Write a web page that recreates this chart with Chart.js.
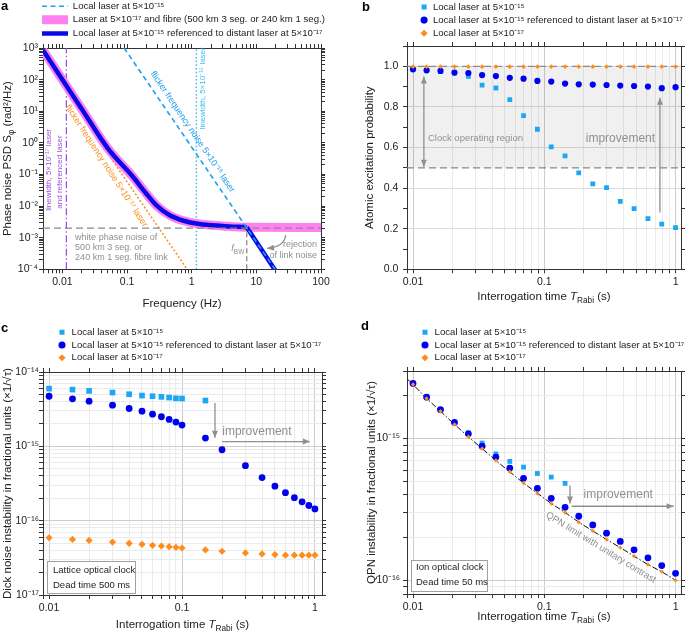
<!DOCTYPE html>
<html>
<head>
<meta charset="utf-8">
<script src="https://cdn.jsdelivr.net/npm/chart.js@4.4.1/dist/chart.umd.min.js"></script>
<style>
html, body { margin: 0; padding: 0; background: #fff; }
#wrap { position: relative; width: 685px; height: 633px; overflow: hidden; }
canvas { position: absolute; }
</style>
</head>
<body>
<div id="wrap">
  <canvas id="chartA" width="345" height="310" style="left:0;top:0"></canvas>
  <canvas id="chartB" width="340" height="310" style="left:345px;top:0"></canvas>
  <canvas id="chartC" width="345" height="323" style="left:0;top:310px"></canvas>
  <canvas id="chartD" width="340" height="323" style="left:345px;top:310px"></canvas>
</div>
<script>
// ---------- panel a : phase noise PSD (Hz, rad^2/Hz)
const freqKnee = [0.005, 0.01, 0.02, 0.05, 0.122, 0.196, 0.28, 0.45, 0.725, 1.32, 3.0, 7.1];
const psdKnee = [850, 99, 11.6, 0.68, 0.086, 0.0255, 0.0109, 0.0052, 0.0035, 0.0027, 0.00236, 0.00214];
const freqTail = [7.1, 20];          // referenced laser above the servo bandwidth
const psdTail = [0.00214, 0.000087];
const freqFibre = [...freqKnee, 100];
const psdFibre = [...psdKnee, 0.0021];
const freqLocal15 = [0.09, 20];      // flicker frequency noise, 5e-15 laser
const psdLocal15 = [1000, 0.000091];
const freqLocal17 = [0.055, 0.85];   // flicker frequency noise, 5e-17 laser
const psdLocal17 = [0.35, 0.0001];
const whiteLink = 0.002;
const freqSpan = [0.005, 100];
const psdSpan = [1e-4, 1e3];
const lw17 = 0.0115, lw15 = 1.18, fBW = 7.1;

// ---------- panel b : atomic excitation probability
const tRabi = [0.01, 0.0127, 0.0162, 0.0207, 0.0264, 0.0336, 0.0428, 0.0546, 0.0695, 0.0886,
               0.113, 0.144, 0.183, 0.234, 0.298, 0.379, 0.483, 0.616, 0.785, 1.0];
const excLocal = [0.984, 0.980, 0.975, 0.967, 0.951, 0.907, 0.893, 0.836, 0.757, 0.690,
                  0.603, 0.559, 0.475, 0.421, 0.402, 0.335, 0.299, 0.250, 0.223, 0.205];
const excRef = [0.985, 0.980, 0.977, 0.969, 0.967, 0.957, 0.952, 0.943, 0.939, 0.928,
                0.925, 0.915, 0.911, 0.910, 0.908, 0.905, 0.903, 0.900, 0.892, 0.897];
const excStable = [0.998, 0.998, 0.998, 0.998, 0.998, 0.998, 0.998, 0.998, 0.998, 0.998,
                   0.998, 0.998, 0.998, 0.998, 0.998, 0.998, 0.998, 0.998, 0.998, 0.998];
const tSpanB = [0.009, 1.1];

// ---------- panel c : Dick noise instability
const tDick = [0.01, 0.015, 0.02, 0.03, 0.04, 0.05, 0.06, 0.07, 0.08, 0.09, 0.1,
               0.15, 0.2, 0.3, 0.4, 0.5, 0.6, 0.7, 0.8, 0.9, 1.0];
const dickLocal = [5.98e-15, 5.8e-15, 5.57e-15, 5.29e-15, 5.02e-15, 4.82e-15, 4.72e-15, 4.63e-15, 4.53e-15, 4.43e-15, 4.4e-15,
                   4.13e-15, null, null, null, null, null, null, null, null, null];
const dickRef = [4.72e-15, 4.35e-15, 4.05e-15, 3.58e-15, 3.23e-15, 2.97e-15, 2.71e-15, 2.5e-15, 2.3e-15, 2.12e-15, 1.93e-15,
                 1.29e-15, 9.0e-16, 5.5e-16, 3.8e-16, 2.91e-16, 2.38e-16, 2.04e-16, 1.79e-16, 1.6e-16, 1.44e-16];
const dickStable = [5.89e-17, 5.6e-17, 5.43e-17, 5.15e-17, 4.95e-17, 4.8e-17, 4.66e-17, 4.56e-17, 4.47e-17, 4.38e-17, 4.29e-17,
                    4.04e-17, 3.88e-17, 3.68e-17, 3.57e-17, 3.5e-17, 3.43e-17, 3.43e-17, 3.43e-17, 3.43e-17, 3.43e-17];

// ---------- panel d : QPN instability
const qpnLocal = [2.45e-15, 1.96e-15, 1.6e-15, 1.3e-15, 1.1e-15, 9.3e-16, 7.8e-16, 6.9e-16, 6.29e-16, 5.67e-16,
                  5.35e-16, 4.83e-16, null, null, null, null, null, null, null, null];
const qpnRef = [2.45e-15, 1.96e-15, 1.6e-15, 1.3e-15, 1.08e-15, 8.83e-16, 7.4e-16, 6.19e-16, 5.24e-16, 4.46e-16,
                3.79e-16, 3.27e-16, 2.83e-16, 2.46e-16, 2.15e-16, 1.88e-16, 1.64e-16, 1.44e-16, 1.27e-16, 1.12e-16];
const qpnStable = [2.41e-15, 1.92e-15, 1.56e-15, 1.26e-15, 1.03e-15, 8.5e-16, 7.0e-16, 5.83e-16, 4.85e-16, 4.11e-16,
                   3.48e-16, 3.01e-16, 2.57e-16, 2.23e-16, 1.94e-16, 1.70e-16, 1.48e-16, 1.29e-16, 1.15e-16, 1.0e-16];
const qpnLineT = [0.009, ...tRabi];
const qpnLine = [2.65e-15, ...qpnStable];

// ---------- look
const FAMILY = "'Liberation Sans', Arial, Helvetica, sans-serif";
Chart.defaults.font.family = FAMILY;
Chart.defaults.color = '#222';
const COL = {
  sky: '#1aa7f5', blue: '#0000f0', orange: '#ff8c1a', pink: '#ff80f0', line: '#0a0ae6',
  dash: '#1e9fec', dotted: '#3bbcf7', purple: '#9b51e0', note: '#8f8f8f', ref: '#8a8a8a'
};
const LEGEND_SIZE = 9.6;

const toXY = (xs, ys) => xs.map((x, i) => ({ x, y: ys[i] })).filter(p => p.y != null);
const SUP = { '-': '⁻', '0': '⁰', '1': '¹', '2': '²', '3': '³', '4': '⁴', '5': '⁵', '6': '⁶', '7': '⁷', '8': '⁸', '9': '⁹' };
const isDecade = v => Math.abs(Math.log10(v) - Math.round(Math.log10(v))) < 1e-9;
const decadeLabel = v => isDecade(v) ? '10' + String(Math.round(Math.log10(v))).split('').map(c => SUP[c]).join('') : '';
const plainLabel = v => isDecade(v) ? String(v) : '';

function logTicks(lo, hi) {
  const out = [];
  for (let e = Math.floor(Math.log10(lo)); e <= Math.ceil(Math.log10(hi)); e++) {
    for (let m = 1; m <= 9; m++) {
      const v = Number((m * Math.pow(10, e)).toPrecision(6));
      if (v >= lo * 0.9999 && v <= hi * 1.0001) out.push(v);
    }
  }
  return out;
}

const majorMinor = c => isDecade(c.tick.value) ? '#cdcdcd' : '#ebebeb';

function axis(pos, o) {
  const horiz = pos === 'top' || pos === 'bottom';
  const main = pos === 'bottom' || pos === 'left';
  const cfg = {
    type: o.type, axis: horiz ? 'x' : 'y', position: pos, min: o.min, max: o.max,
    border: { display: true, color: '#333', width: 1 },
    grid: { drawOnChartArea: main && !!o.grid, color: o.grid || '#333', tickColor: '#333', tickLength: 4, lineWidth: 1 },
    ticks: { display: main, autoSkip: false, maxRotation: 0, minRotation: 0, padding: o.pad == null ? 3 : o.pad,
             font: { size: 10.5 }, color: '#222', callback: o.label || (() => ''), stepSize: o.step },
    afterFit: s => {
      if (pos === 'top') s.height = Math.max(0, o.top - s.chart.legend.height);
      else if (horiz) s.height = o.size;
      else s.width = o.size;
    }
  };
  if (o.ticks) cfg.afterBuildTicks = s => { s.ticks = o.ticks.map(v => ({ value: v })); };
  return cfg;
}

// ---------- drawing helpers for labels and arrows
function drawRich(ctx, parts, x, y, size, align, color, rot) {
  if (typeof parts === 'string') parts = [{ t: parts }];
  const fonts = parts.map(p => (p.it ? 'italic ' : '') + (p.sub ? size * 0.72 : size) + 'px ' + FAMILY);
  const widths = parts.map((p, i) => { ctx.font = fonts[i]; return ctx.measureText(p.t).width; });
  const total = widths.reduce((a, b) => a + b, 0);
  ctx.save();
  ctx.translate(x, y);
  ctx.rotate((rot || 0) * Math.PI / 180);
  ctx.fillStyle = color;
  ctx.textBaseline = 'middle';
  ctx.textAlign = 'left';
  let cx = align === 'center' ? -total / 2 : align === 'right' ? -total : 0;
  parts.forEach((p, i) => { ctx.font = fonts[i]; ctx.fillText(p.t, cx, p.sub ? size * 0.32 : 0); cx += widths[i]; });
  ctx.restore();
}

function head(ctx, fx, fy, tx, ty) {
  const a = Math.atan2(ty - fy, tx - fx), L = 7, W = 3;
  ctx.beginPath();
  ctx.moveTo(tx, ty);
  ctx.lineTo(tx - L * Math.cos(a) + W * Math.sin(a), ty - L * Math.sin(a) - W * Math.cos(a));
  ctx.lineTo(tx - L * Math.cos(a) - W * Math.sin(a), ty - L * Math.sin(a) + W * Math.cos(a));
  ctx.closePath();
  ctx.fill();
}

const notes = {
  id: 'notes',
  afterLayout(chart, args, o) {
    if (o.legendAt && chart.legend) {
      const lg = chart.legend;
      lg.left = o.legendAt[0];
      lg.top = o.legendAt[1];
      lg.bottom = lg.top + 60;
    }
  },
  afterDraw(chart, args, o) {
    const { ctx, chartArea: ca, scales } = chart;
    const px = p => [scales.x.getPixelForValue(p[0]), scales.y.getPixelForValue(p[1])];
    ctx.save();
    ctx.fillStyle = '#000';
    ctx.font = 'bold 13px ' + FAMILY;
    ctx.textBaseline = 'middle';
    ctx.textAlign = 'left';
    ctx.fillText(o.letter[0], o.letter[1], o.letter[2]);
    drawRich(ctx, o.xTitle, (ca.left + ca.right) / 2, o.xTitleY, 11.5, 'center', '#222', 0);
    drawRich(ctx, o.yTitle, o.yTitleX, (ca.top + ca.bottom) / 2, 11.5, 'center', '#222', -90);
    (o.items || []).forEach(it => {
      ctx.strokeStyle = COL.note;
      ctx.fillStyle = COL.note;
      ctx.lineWidth = 1.3;
      if (it.arrow) {
        const [x1, y1] = px(it.arrow[0]);
        const [x2, y2] = px(it.arrow[1]);
        ctx.beginPath(); ctx.moveTo(x1, y1); ctx.lineTo(x2, y2); ctx.stroke();
        head(ctx, x1, y1, x2, y2);
        if (it.both) head(ctx, x2, y2, x1, y1);
      } else if (it.curve) {
        const [x1, y1] = px(it.curve[0]);
        const [cx, cy] = px(it.curve[1]);
        const [x2, y2] = px(it.curve[2]);
        ctx.beginPath(); ctx.moveTo(x1, y1); ctx.quadraticCurveTo(cx, cy, x2, y2); ctx.stroke();
        head(ctx, cx, cy, x2, y2);
      } else if (it.box) {
        const b = it.box;
        const left = ca.left + b.dx, top = ca.bottom - b.dy - b.h;
        ctx.fillStyle = '#fff';
        ctx.fillRect(left, top, b.w, b.h);
        ctx.strokeStyle = '#a0a0a0';
        ctx.lineWidth = 1;
        ctx.strokeRect(Math.round(left) + 0.5, Math.round(top) + 0.5, b.w, b.h);
        it.lines.forEach((t, i) => drawRich(ctx, t, left + b.padX, top + b.firstY + i * b.gap, b.size, 'left', '#222', 0));
      } else {
        const [x, y] = px(it.at);
        drawRich(ctx, it.text, x, y, it.size, it.align || 'center', it.color, it.rot || 0);
      }
    });
    ctx.restore();
  }
};

const base = { responsive: false, animation: false, events: [], devicePixelRatio: 1, layout: { padding: 0 } };
const rabiTitle = [{ t: 'Interrogation time ' }, { t: 'T', it: true }, { t: 'Rabi', sub: true }, { t: ' (s)' }];
const pointLegend = (boxW, maxH, pad) => ({
  position: 'top', align: 'start', maxHeight: maxH,
  labels: {
    font: { size: LEGEND_SIZE }, color: '#222', padding: pad, usePointStyle: true, boxWidth: boxW, boxHeight: 5,
    filter: (item, data) => data.datasets[item.datasetIndex].inLegend === true,
    sort: (a, b) => a.datasetIndex - b.datasetIndex
  }
});

// ================= panel a =================
const lineA = { showLine: true, pointRadius: 0, clip: 0, fill: false };
new Chart(document.getElementById('chartA'), {
  type: 'scatter',
  data: {
    datasets: [
      { label: 'Local laser at 5×10⁻¹⁵', data: toXY(freqLocal15, psdLocal15), borderColor: COL.dash, borderWidth: 1.6, borderDash: [5, 3.5], order: 1, inLegend: true },
      { label: 'Laser at 5×10⁻¹⁷ and fibre (500 km 3 seg. or 240 km 1 seg.)', data: toXY(freqFibre, psdFibre), borderColor: COL.pink, borderWidth: 9, cubicInterpolationMode: 'monotone', order: 5, inLegend: true },
      { label: 'Local laser at 5×10⁻¹⁵ referenced to distant laser at 5×10⁻¹⁷', data: toXY(freqKnee, psdKnee), borderColor: COL.line, borderWidth: 4.5, cubicInterpolationMode: 'monotone', order: 3, inLegend: true },
      { label: 'tail', data: toXY(freqTail, psdTail), borderColor: COL.line, borderWidth: 4.5, order: 3 },
      { label: 'flicker 5e-17', data: toXY(freqLocal17, psdLocal17), borderColor: COL.orange, borderWidth: 1.5, borderDash: [2, 2], order: 6 },
      { label: 'white link', data: toXY(freqSpan, [whiteLink, whiteLink]), borderColor: COL.ref, borderWidth: 1.3, borderDash: [7, 4], order: 2 },
      { label: 'fBW', data: toXY([fBW, fBW], [psdSpan[0], whiteLink]), borderColor: COL.ref, borderWidth: 1.3, borderDash: [5, 3], order: 2 },
      { label: 'lw17', data: toXY([lw17, lw17], psdSpan), borderColor: COL.purple, borderWidth: 1.3, borderDash: [7, 2.5, 1.5, 2.5], order: 6 },
      { label: 'lw15', data: toXY([lw15, lw15], psdSpan), borderColor: COL.dotted, borderWidth: 1.5, borderDash: [1.5, 2.2], order: 6 }
    ]
  },
  options: {
    ...base,
    datasets: { scatter: lineA },
    scales: {
      x: axis('bottom', { type: 'logarithmic', min: 0.005, max: 100, ticks: logTicks(0.005, 100), label: plainLabel, size: 40.7 }),
      x2: axis('top', { type: 'logarithmic', min: 0.005, max: 100, ticks: logTicks(0.005, 100), top: 48 }),
      y: axis('left', { type: 'logarithmic', min: 1e-4, max: 1e3, ticks: logTicks(1e-4, 1e3), label: decadeLabel, size: 43, pad: 1 }),
      y2: axis('right', { type: 'logarithmic', min: 1e-4, max: 1e3, ticks: logTicks(1e-4, 1e3), size: 24 })
    },
    plugins: {
      tooltip: { enabled: false },
      legend: {
        position: 'top', align: 'start', maxHeight: 44,
        labels: {
          font: { size: LEGEND_SIZE }, color: '#222', padding: 4, usePointStyle: true, pointStyleWidth: 26, boxHeight: 10,
          generateLabels: chart => chart.data.datasets
            .map((d, i) => ({ text: d.label, datasetIndex: i, hidden: false, fontColor: '#222',
              strokeStyle: d.borderColor, fillStyle: d.borderColor, lineWidth: d.borderWidth,
              lineDash: d.borderDash || [], lineCap: 'butt', pointStyle: 'line' }))
            .filter(it => chart.data.datasets[it.datasetIndex].inLegend)
        }
      },
      notes: {
        legendAt: [38, -2.6], letter: ['a', 1, 6],
        xTitle: 'Frequency (Hz)', xTitleY: 304,
        yTitle: [{ t: 'Phase noise PSD S' }, { t: 'φ', sub: true }, { t: ' (rad²/Hz)' }], yTitleX: 8,
        items: [
          { at: [1.03, 2.23], text: 'flicker frequency noise 5×10⁻¹⁵ laser', size: 9, color: COL.dash, rot: 56 },
          { at: [0.0477, 0.187], text: 'flicker frequency noise 5×10⁻¹⁷ laser', size: 9, color: COL.orange, rot: 57 },
          { at: [1.48, 53], text: 'linewidth, 5×10⁻¹⁵ laser', size: 8, color: COL.dotted, rot: -90 },
          { at: [0.0062, 0.14], text: 'linewidth, 5×10⁻¹⁷ laser', size: 8, color: COL.purple, rot: -90 },
          { at: [0.0092, 0.12], text: 'and referenced laser', size: 8, color: COL.purple, rot: -90 },
          { at: [0.0157, 1.05e-3], text: 'white phase noise of', size: 9, color: COL.note, align: 'left' },
          { at: [0.0157, 4.73e-4], text: '500 km 3 seg. or', size: 9, color: COL.note, align: 'left' },
          { at: [0.0157, 2.28e-4], text: '240 km 1 seg. fibre link', size: 9, color: COL.note, align: 'left' },
          { at: [5.16, 4.4e-4], text: [{ t: 'f', it: true }, { t: 'BW', sub: true }], size: 9, color: COL.note },
          { at: [87, 6.3e-4], text: 'rejection', size: 9, color: COL.note, align: 'right' },
          { at: [87, 2.64e-4], text: 'of link noise', size: 9, color: COL.note, align: 'right' },
          { curve: [[28.4, 1.22e-3], [27.3, 5.1e-4], [14.6, 4.6e-4]] }
        ]
      }
    }
  },
  plugins: [notes]
});

// ================= panel b =================
const refLine = { showLine: true, pointRadius: 0, borderColor: COL.ref, borderWidth: 1.2, borderDash: [7, 4], order: 5 };
new Chart(document.getElementById('chartB'), {
  type: 'scatter',
  data: {
    datasets: [
      { label: 'Local laser at 5×10⁻¹⁵', data: toXY(tRabi, excLocal), pointStyle: 'rect', pointRadius: 3.4, backgroundColor: COL.sky, pointBackgroundColor: COL.sky, order: 3, inLegend: true },
      { label: 'Local laser at 5×10⁻¹⁵ referenced to distant laser at 5×10⁻¹⁷', data: toXY(tRabi, excRef), pointStyle: 'circle', pointRadius: 3.1, backgroundColor: COL.blue, pointBackgroundColor: COL.blue, order: 2, inLegend: true },
      { label: 'Local laser at 5×10⁻¹⁷', data: toXY(tRabi, excStable), pointStyle: 'rectRot', pointRadius: 2.4, backgroundColor: COL.orange, pointBackgroundColor: COL.orange, order: 1, inLegend: true },
      { label: 'operating region', data: toXY(tSpanB, [1, 1]), ...refLine, fill: { value: 0.5 }, backgroundColor: 'rgba(0,0,0,0.06)' },
      { label: 'half', data: toXY(tSpanB, [0.5, 0.5]), ...refLine, fill: false }
    ]
  },
  options: {
    ...base,
    datasets: { scatter: { pointBorderWidth: 0 } },
    scales: {
      x: axis('bottom', { type: 'logarithmic', min: 0.009, max: 1.1, ticks: logTicks(0.009, 1.1), label: plainLabel, size: 40.7, grid: majorMinor }),
      x2: axis('top', { type: 'logarithmic', min: 0.009, max: 1.1, ticks: logTicks(0.009, 1.1), top: 46 }),
      y: axis('left', { type: 'linear', min: 0, max: 1.1, step: 0.1, size: 62, pad: 4.7,
        label: v => Math.round(v * 10) % 2 === 0 ? v.toFixed(1) : '',
        grid: c => Math.round(c.tick.value * 10) % 2 === 0 ? '#dadada' : 'rgba(0,0,0,0)' }),
      y2: axis('right', { type: 'linear', min: 0, max: 1.1, step: 0.1, size: 0.7 })
    },
    plugins: {
      tooltip: { enabled: false },
      legend: pointLegend(8, 42, 3.5),
      notes: {
        legendAt: [71.6, -1.3], letter: ['b', 17, 7],
        xTitle: rabiTitle, xTitleY: 296.7,
        yTitle: 'Atomic excitation probability', yTitleX: 25,
        items: [
          { arrow: [[0.0121, 0.95], [0.0121, 0.505]], both: true },
          { at: [0.013, 0.645], text: 'Clock operating region', size: 9.5, color: COL.note, align: 'left' },
          { arrow: [[0.76, 0.28], [0.76, 0.845]] },
          { at: [0.38, 0.645], text: 'improvement', size: 12, color: COL.note }
        ]
      }
    }
  },
  plugins: [notes]
});

// ================= panel c =================
new Chart(document.getElementById('chartC'), {
  type: 'scatter',
  data: {
    datasets: [
      { label: 'Local laser at 5×10⁻¹⁵', data: toXY(tDick, dickLocal), pointStyle: 'rect', pointRadius: 4, backgroundColor: COL.sky, pointBackgroundColor: COL.sky, order: 3, inLegend: true },
      { label: 'Local laser at 5×10⁻¹⁵ referenced to distant laser at 5×10⁻¹⁷', data: toXY(tDick, dickRef), pointStyle: 'circle', pointRadius: 3.4, backgroundColor: COL.blue, pointBackgroundColor: COL.blue, order: 2, inLegend: true },
      { label: 'Local laser at 5×10⁻¹⁷', data: toXY(tDick, dickStable), pointStyle: 'rectRot', pointRadius: 3.6, backgroundColor: COL.orange, pointBackgroundColor: COL.orange, order: 1, inLegend: true }
    ]
  },
  options: {
    ...base,
    datasets: { scatter: { pointBorderWidth: 0 } },
    scales: {
      x: axis('bottom', { type: 'logarithmic', min: 0.009, max: 1.13, ticks: logTicks(0.009, 1.13), label: plainLabel, size: 38, grid: majorMinor }),
      x2: axis('top', { type: 'logarithmic', min: 0.009, max: 1.13, ticks: logTicks(0.009, 1.13), top: 62 }),
      y: axis('left', { type: 'logarithmic', min: 1e-17, max: 1e-14, ticks: logTicks(1e-17, 1e-14), label: decadeLabel, size: 43, pad: 0, grid: majorMinor }),
      y2: axis('right', { type: 'logarithmic', min: 1e-17, max: 1e-14, ticks: logTicks(1e-17, 1e-14), size: 23 })
    },
    plugins: {
      tooltip: { enabled: false },
      legend: pointLegend(10, 58, 3.2),
      notes: {
        legendAt: [54, 14.2], letter: ['c', 1, 18],
        xTitle: rabiTitle, xTitleY: 315,
        yTitle: 'Dick noise instability in fractional units (×1/√τ)', yTitleX: 8,
        items: [
          { arrow: [[0.177, 3.84e-15], [0.177, 1.3e-15]] },
          { arrow: [[0.2, 1.16e-15], [0.917, 1.16e-15]] },
          { at: [0.366, 1.57e-15], text: 'improvement', size: 12, color: COL.note },
          { box: { dx: 4, dy: 2, w: 88, h: 32, padX: 6, firstY: 9, gap: 15, size: 9.5 }, lines: ['Lattice optical clock', 'Dead time 500 ms'] }
        ]
      }
    }
  },
  plugins: [notes]
});

// ================= panel d =================
new Chart(document.getElementById('chartD'), {
  type: 'scatter',
  data: {
    datasets: [
      { label: 'Local laser at 5×10⁻¹⁵', data: toXY(tRabi, qpnLocal), pointStyle: 'rect', pointRadius: 3.4, backgroundColor: COL.sky, pointBackgroundColor: COL.sky, order: 3, inLegend: true },
      { label: 'Local laser at 5×10⁻¹⁵ referenced to distant laser at 5×10⁻¹⁷', data: toXY(tRabi, qpnRef), pointStyle: 'circle', pointRadius: 3.4, backgroundColor: COL.blue, pointBackgroundColor: COL.blue, order: 2, inLegend: true },
      { label: 'Local laser at 5×10⁻¹⁷', data: toXY(tRabi, qpnStable), pointStyle: 'rectRot', pointRadius: 2.2, backgroundColor: COL.orange, pointBackgroundColor: COL.orange, order: 1, inLegend: true },
      { label: 'QPN limit', data: toXY(qpnLineT, qpnLine), showLine: true, pointRadius: 0, borderColor: '#111', borderWidth: 1, borderDash: [6, 2, 1.5, 2], order: 4 }
    ]
  },
  options: {
    ...base,
    datasets: { scatter: { pointBorderWidth: 0 } },
    scales: {
      x: axis('bottom', { type: 'logarithmic', min: 0.009, max: 1.1, ticks: logTicks(0.009, 1.1), label: plainLabel, size: 39, grid: majorMinor }),
      x2: axis('top', { type: 'logarithmic', min: 0.009, max: 1.1, ticks: logTicks(0.009, 1.1), top: 61 }),
      y: axis('left', { type: 'logarithmic', min: 8e-17, max: 3e-15, ticks: logTicks(8e-17, 3e-15), label: decadeLabel, size: 62, pad: 3, grid: majorMinor }),
      y2: axis('right', { type: 'logarithmic', min: 8e-17, max: 3e-15, ticks: logTicks(8e-17, 3e-15), size: 0.7 })
    },
    plugins: {
      tooltip: { enabled: false },
      legend: pointLegend(10, 57, 3.2),
      notes: {
        legendAt: [72, 14.2], letter: ['d', 16, 16],
        xTitle: rabiTitle, xTitleY: 306.7,
        yTitle: 'QPN instability in fractional units (×1/√τ)', yTitleX: 26.7,
        items: [
          { arrow: [[0.157, 4.67e-16], [0.157, 3.48e-16]] },
          { arrow: [[0.162, 3.33e-16], [0.966, 3.33e-16]] },
          { at: [0.366, 4.03e-16], text: 'improvement', size: 12, color: COL.note },
          { at: [0.27, 1.7e-16], text: 'QPN limit with unitary contrast', size: 9.5, color: COL.note, rot: 31.5 },
          { box: { dx: 4, dy: 3, w: 76, h: 31, padX: 5, firstY: 7.7, gap: 15, size: 9.5 }, lines: ['Ion optical clock', 'Dead time 50 ms'] }
        ]
      }
    }
  },
  plugins: [notes]
});
</script>
</body>
</html>
